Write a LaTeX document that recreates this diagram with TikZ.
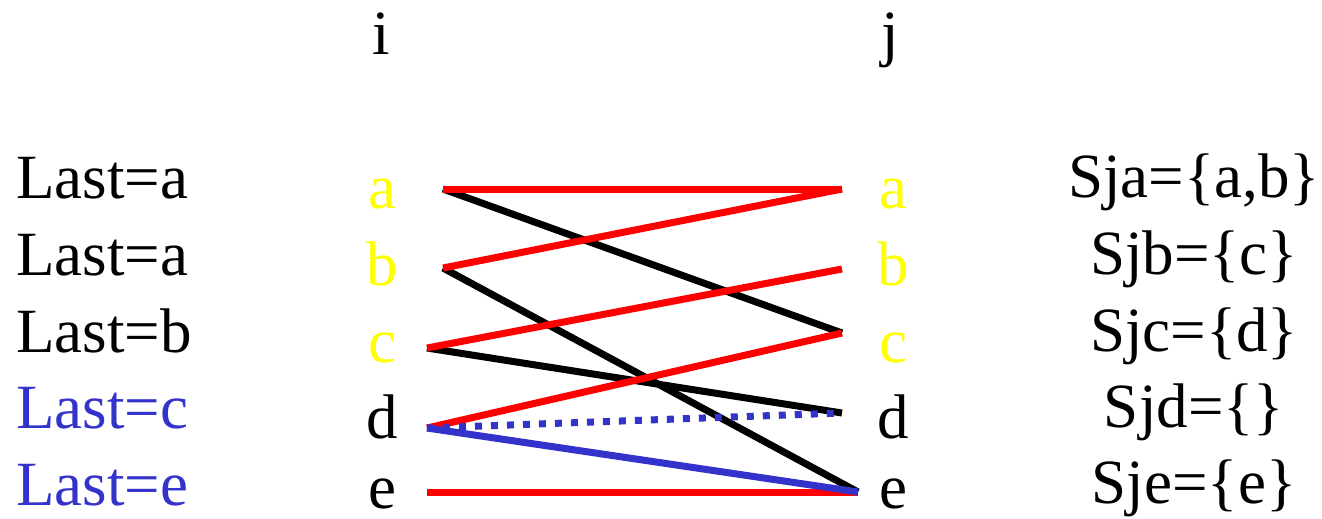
\documentclass[tikz,border=0pt]{standalone}
\usepackage{fontspec}
\setmainfont{Liberation Serif}
\definecolor{myred}{RGB}{255,0,0}
\definecolor{myblue}{RGB}{51,51,204}
\definecolor{myyellow}{RGB}{255,255,0}
\begin{document}
\begin{tikzpicture}[x=1pt,y=-1pt,
  txt/.style={inner sep=0pt,font=\fontsize{63}{65}\selectfont},
  lastlbl/.style={txt,anchor=base west},
  letter/.style={txt,anchor=base},
  setlbl/.style={txt,anchor=base},
  edge/.style={line width=7pt},
  blackedge/.style={edge,black},
  rededge/.style={edge,myred},
  blueedge/.style={edge,myblue},
  dottededge/.style={edge,myblue,dash pattern=on 7pt off 9pt}]
\useasboundingbox (0,0) rectangle (1322,519);
% headers
\node[letter] (hi) at (381,55) {i};
\node[letter] (hj) at (890,55) {j};
% left labels
\node[lastlbl] (l1) at (16,198) {Last=a};
\node[lastlbl] (l2) at (16,275) {Last=a};
\node[lastlbl] (l3) at (16,352) {Last=b};
\node[lastlbl,text=myblue] (l4) at (16,428) {Last=c};
\node[lastlbl,text=myblue] (l5) at (16,505) {Last=e};
% i letters
\node[letter,text=myyellow] (na) at (382,208) {a};
\node[letter,text=myyellow] (nb) at (382,285) {b};
\node[letter,text=myyellow] (nc) at (382,362) {c};
\node[letter] (nd) at (382,438) {d};
\node[letter,text depth=0pt] (ne) at (382,508) {e};
% j letters
\node[letter,text=myyellow] (ma) at (893,208) {a};
\node[letter,text=myyellow] (mb) at (893,285) {b};
\node[letter,text=myyellow] (mc) at (893,362) {c};
\node[letter] (md) at (893,438) {d};
\node[letter,text depth=0pt] (me) at (893,508) {e};
% set labels
\node[setlbl] (s1) at (1194,197) {Sja=\{a,b\}};
\node[setlbl] (s2) at (1194,274) {Sjb=\{c\}};
\node[setlbl] (s3) at (1194,351) {Sjc=\{d\}};
\node[setlbl] (s4) at (1194,427) {Sjd=\{\}};
\node[setlbl] (s5) at (1194,503) {Sje=\{e\}};
% end points
\coordinate (ia) at (443,189);
\coordinate (ib) at (443,268);
\coordinate (ic) at (427,348);
\coordinate (id) at (427,428);
\coordinate (ie) at (427,492);
\coordinate (ja) at (842,189);
\coordinate (jb) at (842,269);
\coordinate (jc) at (842,333);
\coordinate (jd) at (842,413);
\coordinate (je) at (858,492);
% edges
\draw[blackedge] (ia) -- (jc);
\draw[blackedge] (ib) -- (je);
\draw[blackedge] (ic) -- (jd);
\draw[rededge] (ia) -- (ja);
\draw[rededge] (ib) -- (ja);
\draw[rededge] (ic) -- (jb);
\draw[rededge] (id) -- (jc);
\draw[rededge] (ie) -- (je);
\draw[dottededge] (id) -- (jd);
\draw[blueedge] (id) -- (je);
\end{tikzpicture}
\end{document}
